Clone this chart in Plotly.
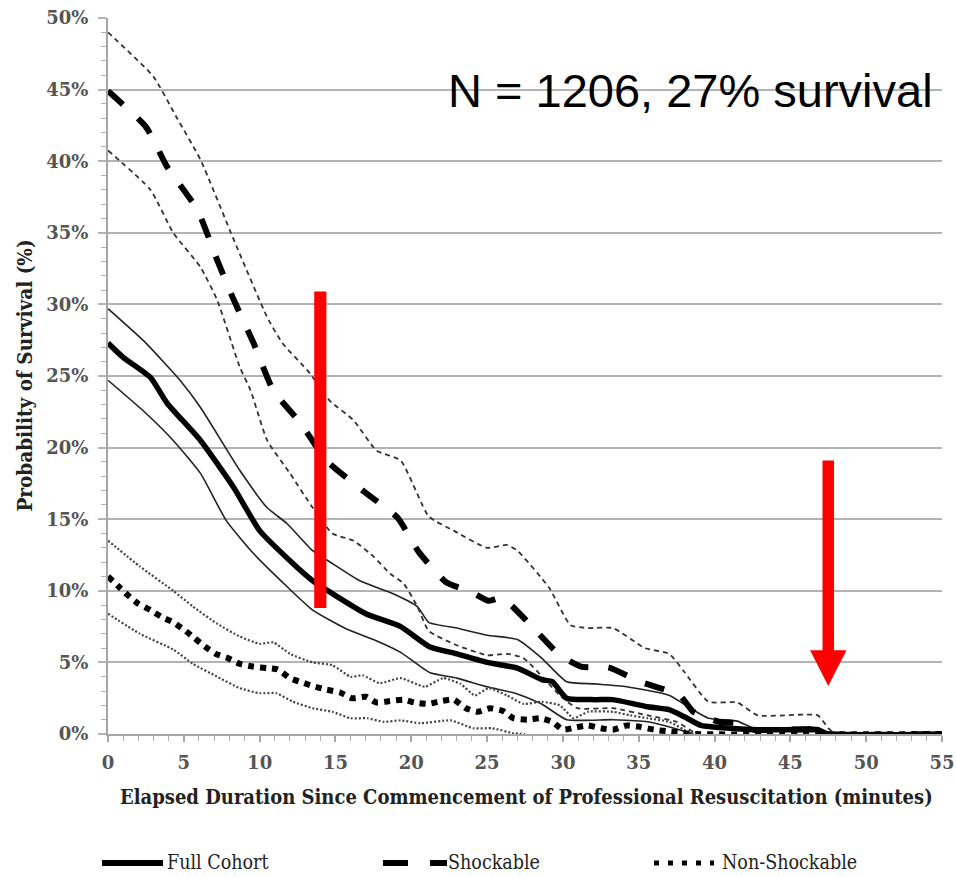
import plotly.graph_objects as go

# ---------------- data (minutes, % survival) ----------------
full_t = [0, 1, 2.8, 3.9, 6.1, 8.3, 10, 12, 13.5, 14.8, 17, 19.3, 21.2, 23, 25, 27, 28.6, 29.3,
          30.25, 32.1, 33.3, 35.6, 37, 38, 39.1, 40.3, 42.6, 44.9, 46.8, 47.5, 55]
full_v = [27.3, 26.3, 24.9, 23.1, 20.5, 17.2, 14.2, 12.1, 10.7, 9.8, 8.4, 7.5, 6.1, 5.6, 5.0, 4.6, 3.8, 3.65,
          2.5, 2.4, 2.4, 1.9, 1.7, 1.2, 0.6, 0.45, 0.3, 0.3, 0.3, 0, 0]

full_up_t = [0, 2.5, 4.75, 6.1, 8.7, 10.5, 11.8, 13.5, 14.8, 16.6, 18.8, 20.4, 21.15, 23, 25, 27, 28.6,
             30.25, 32.1, 34.2, 37, 38.4, 39.6, 41.5, 42.6, 46.8, 47.5]
full_up_v = [29.7, 27.3, 24.7, 22.8, 18.4, 15.8, 14.7, 12.8, 11.9, 10.7, 9.8, 8.9, 7.8, 7.4, 6.9, 6.6, 5.3,
             3.65, 3.5, 3.3, 2.7, 1.8, 1.1, 0.9, 0.4, 0.45, 0]

full_lo_t = [0, 2.5, 4.3, 6.1, 7.8, 9.6, 11.8, 13.5, 15.8, 17.5, 19.3, 21.2, 23, 25, 27, 28.6, 30.25,
             33.3, 35.6, 38, 38.6]
full_lo_v = [24.7, 22.4, 20.5, 18.2, 14.9, 12.6, 10.3, 8.65, 7.3, 6.6, 5.7, 4.3, 3.9, 3.3, 2.8, 2.1, 1.0,
             1.0, 0.85, 0.2, 0]

shock_t = [0, 2.5, 3.9, 5.9, 7.2, 8.3, 9.6, 10.9, 12.7, 14.4, 16.8, 19.1, 20.5, 22.3, 24, 25.1, 26, 27.7,
           29.8, 31.2, 33, 35.1, 37.7, 38.6, 40.3, 41.5, 42.6, 46.8, 47.5, 55]
shock_v = [44.9, 42.4, 39.6, 36.6, 33.1, 30.3, 27.3, 24.0, 21.7, 19.1, 17.0, 15.1, 12.7, 10.6, 9.9, 9.3, 9.5, 7.8,
           5.5, 4.7, 4.65, 3.65, 2.7, 1.55, 0.85, 0.75, 0.3, 0.3, 0, 0]

shock_up_t = [0, 3.0, 4.5, 6.1, 8.3, 10.5, 11.5, 13.3, 14.6, 16.2, 17.7, 19.3, 21.15, 22.8, 25, 26.3, 27,
              29.1, 30.5, 31.65, 33.3, 35.4, 37, 38, 39.6, 41.5, 42.85, 46.8, 47.5, 48]
shock_up_v = [49.0, 45.9, 43.1, 40.1, 34.5, 29.1, 27.3, 25.2, 23.3, 21.9, 19.8, 19.1, 15.2, 14.2, 13.0, 13.2, 12.8,
              10.2, 7.6, 7.4, 7.4, 6.0, 5.6, 4.35, 2.25, 2.2, 1.3, 1.3, 0.4, 0]

shock_lo_t = [0, 2.8, 4.3, 6.1, 7.2, 8.7, 9.4, 10.5, 12, 13.5, 14.8, 16.2, 17.5, 18.6, 19.5, 20.4, 21.15,
              23, 25, 26.3, 27.4, 29.8, 30.95, 33.3, 35.6, 37.5, 38.6, 39]
shock_lo_v = [40.75, 38.0, 35.0, 32.6, 30.3, 25.6, 24.0, 20.5, 18.2, 15.8, 14.0, 13.5, 12.4, 11.2, 10.5, 8.9, 7.2,
              6.2, 5.5, 5.6, 5.3, 2.7, 1.8, 1.8, 1.3, 0.85, 0.15, 0]

nons_t = [0, 0.7, 1.3, 2.0, 2.8, 3.5, 4.3, 5.0, 5.7, 6.4, 7.1, 7.9, 8.7, 9.6, 10.5, 11.2, 12, 12.8, 13.5,
          14.4, 15.3, 16.1, 17, 17.7, 18.6, 19.5, 20.2, 21.1, 22.0, 22.8, 23.6, 24.4, 25.2, 26.05, 26.75,
          27.7, 28.5, 29.3, 30.0, 30.8, 31.65, 32.5, 33.3, 34.2, 35.1, 36, 36.8, 37.7, 38.5, 55]
nons_v = [11.0, 10.3, 9.7, 9.1, 8.65, 8.2, 7.8, 7.3, 6.7, 6.1, 5.6, 5.3, 4.9, 4.7, 4.6, 4.5, 3.9, 3.6, 3.35,
          3.1, 2.9, 2.5, 2.6, 2.2, 2.3, 2.4, 2.2, 2.1, 2.3, 2.4, 1.8, 1.55, 1.8, 1.6, 1.1,
          1.0, 1.1, 0.85, 0.3, 0.45, 0.6, 0.4, 0.3, 0.6, 0.5, 0.3, 0.2, 0.1, 0, 0]

nons_up_t = [0, 2.1, 4.3, 5.6, 7.2, 8.7, 10, 10.9, 12, 13.5, 14.8, 16, 16.8, 17.9, 19.3, 20.9, 22.1, 23.25,
             24.2, 25.1, 26.3, 27.4, 28.6, 29.8, 30.7, 31.65, 33.3, 34.45, 35.6, 37, 38, 38.6]
nons_up_v = [13.5, 11.7, 10.0, 8.9, 7.7, 6.8, 6.3, 6.4, 5.6, 5.0, 4.8, 4.0, 4.1, 3.55, 3.9, 3.3, 3.9, 3.5,
             2.7, 3.2, 2.7, 2.1, 2.25, 2.0, 1.1, 1.55, 1.55, 1.3, 1.1, 0.85, 0.3, 0]

nons_lo_t = [0, 2.1, 4.3, 5.6, 7.2, 8.7, 10, 11.1, 12.2, 13.5, 14.8, 16, 17.1, 18.2, 19.3, 20.6, 22.6,
             24.1, 25.35, 26.75, 27.5]
nons_lo_v = [8.4, 7.0, 5.9, 4.9, 4.0, 3.2, 2.85, 2.85, 2.25, 1.8, 1.55, 1.1, 1.1, 0.85, 0.95, 0.75, 0.95,
             0.4, 0.4, 0.05, 0]

y_ticks = [0, 5, 10, 15, 20, 25, 30, 35, 40, 45, 50]
y_labels = ["0%", "5%", "10%", "15%", "20%", "25%", "30%", "35%", "40%", "45%", "50%"]
x_ticks = [0, 5, 10, 15, 20, 25, 30, 35, 40, 45, 50, 55]

legend_names = ["Full Cohort", "Shockable", "Non-Shockable"]
annot_text = "N = 1206, 27% survival"
x_title = "Elapsed Duration Since Commencement of Professional Resuscitation (minutes)"
y_title = "Probability of Survival (%)"

# ---------------- figure ----------------
SERIF = "DejaVu Serif Condensed, DejaVu Serif, serif"
TICKSERIF = "DejaVu Serif, serif"
fig = go.Figure()

def add(t, v, name, width, dash, color):
    fig.add_trace(go.Scatter(
        x=t, y=v, mode="lines", name=name, showlegend=False,
        line=dict(color=color, width=width, dash=dash, shape="spline", smoothing=0.5),
        hoverinfo="skip"))

# confidence bounds
add(full_up_t, full_up_v, "Full upper", 1.6, "solid", "#222")
add(full_lo_t, full_lo_v, "Full lower", 1.6, "solid", "#222")
add(shock_up_t, shock_up_v, "Shock upper", 1.8, "5px,4px", "#333")
add(shock_lo_t, shock_lo_v, "Shock lower", 1.8, "5px,4px", "#333")
add(nons_up_t, nons_up_v, "Non upper", 2.2, "2px,2px", "#444")
add(nons_lo_t, nons_lo_v, "Non lower", 2.2, "2px,2px", "#444")
# main estimates
STY = [dict(width=5.5, dash="solid"), dict(width=6, dash="20px,20px"), dict(width=6, dash="6px,6px")]
add(full_t, full_v, legend_names[0], STY[0]["width"], STY[0]["dash"], "#000")
add(shock_t, shock_v, legend_names[1], STY[1]["width"], STY[1]["dash"], "#000")
add(nons_t, nons_v, legend_names[2], STY[2]["width"], STY[2]["dash"], "#000")

# ---- custom legend (long symbols as in the original) ----
LEG_Y = -0.18
leg_sym = [(-0.0072, 0.0659, 6, "solid"), (0.3297, 0.4065, 6, "25px,22px"), (0.6547, 0.7266, 5, "5px,9px")]
leg_txt_x = [0.0695, 0.4067, 0.735]
for (x0, x1, w, d), tx, name in zip(leg_sym, leg_txt_x, legend_names):
    fig.add_shape(type="line", xref="paper", yref="paper", x0=x0, x1=x1, y0=LEG_Y, y1=LEG_Y,
                  line=dict(color="#000", width=w, dash=d))
    fig.add_annotation(text=name, xref="paper", yref="paper", x=tx, y=LEG_Y,
                       xanchor="left", yanchor="middle", showarrow=False, borderpad=0,
                       font=dict(family=SERIF, size=19.5, color="#222"))

# red markers
RED = "#ff0000"
fig.add_shape(type="rect", xref="x", yref="y", x0=13.6, x1=14.4, y0=8.8, y1=30.9,
              fillcolor=RED, line=dict(width=0), layer="above")
fig.add_shape(type="rect", xref="x", yref="y", x0=47.12, x1=47.88, y0=5.7, y1=19.1,
              fillcolor=RED, line=dict(width=0), layer="above")
fig.add_shape(type="path", xref="x", yref="y", path="M 46.3 5.85 L 48.7 5.85 L 47.5 3.35 Z",
              fillcolor=RED, line=dict(width=0), layer="above")

fig.add_annotation(text=annot_text, xref="paper", yref="paper", x=0.698, y=0.899,
                   xanchor="center", yanchor="middle", showarrow=False,
                   font=dict(family="Liberation Sans, Arial, sans-serif", size=47, color="#000"))

fig.add_annotation(text="<b>" + x_title + "</b>", xref="paper", yref="paper", x=0.502, y=-0.088,
                   xanchor="center", yanchor="middle", showarrow=False,
                   font=dict(family=SERIF, size=20, color="#222"))
fig.add_annotation(text="<b>" + y_title + "</b>", xref="paper", yref="paper", x=-0.1, y=0.5,
                   xanchor="center", yanchor="middle", showarrow=False, textangle=-90,
                   font=dict(family=SERIF, size=20.5, color="#222"))

fig.update_xaxes(range=[0, 55], tickvals=x_ticks, ticktext=["<b>%d</b>" % v for v in x_ticks],
                 showgrid=False, zeroline=False,
                 showline=True, linecolor="#a6a6a6", linewidth=2,
                 ticks="outside", ticklen=6, tickcolor="#a6a6a6", tickwidth=1.5, ticklabelstandoff=5,
                 minor=dict(dtick=1, ticks="outside", ticklen=5, tickcolor="#b0b0b0", tickwidth=1.2, showgrid=False),
                 tickfont=dict(family=TICKSERIF, size=18, color="#555"))
fig.update_yaxes(range=[0, 50], tickvals=y_ticks, ticktext=["<b>%s</b>" % s for s in y_labels],
                 showgrid=True, gridcolor="#b3b3b3", gridwidth=2, zeroline=False,
                 showline=True, linecolor="#a6a6a6", linewidth=2,
                 ticks="outside", ticklen=8, tickcolor="#b3b3b3", tickwidth=2, ticklabelstandoff=6,
                 minor=dict(dtick=1, ticks="outside", ticklen=5, tickcolor="#b0b0b0", tickwidth=1.2, showgrid=False),
                 tickfont=dict(family=TICKSERIF, size=18, color="#555"))

fig.update_layout(
    width=956, height=877, autosize=False,
    margin=dict(l=108, r=14, t=18, b=143, autoexpand=False),
    paper_bgcolor="white", plot_bgcolor="white",
    showlegend=False,
)

fig.write_html("out.html")
